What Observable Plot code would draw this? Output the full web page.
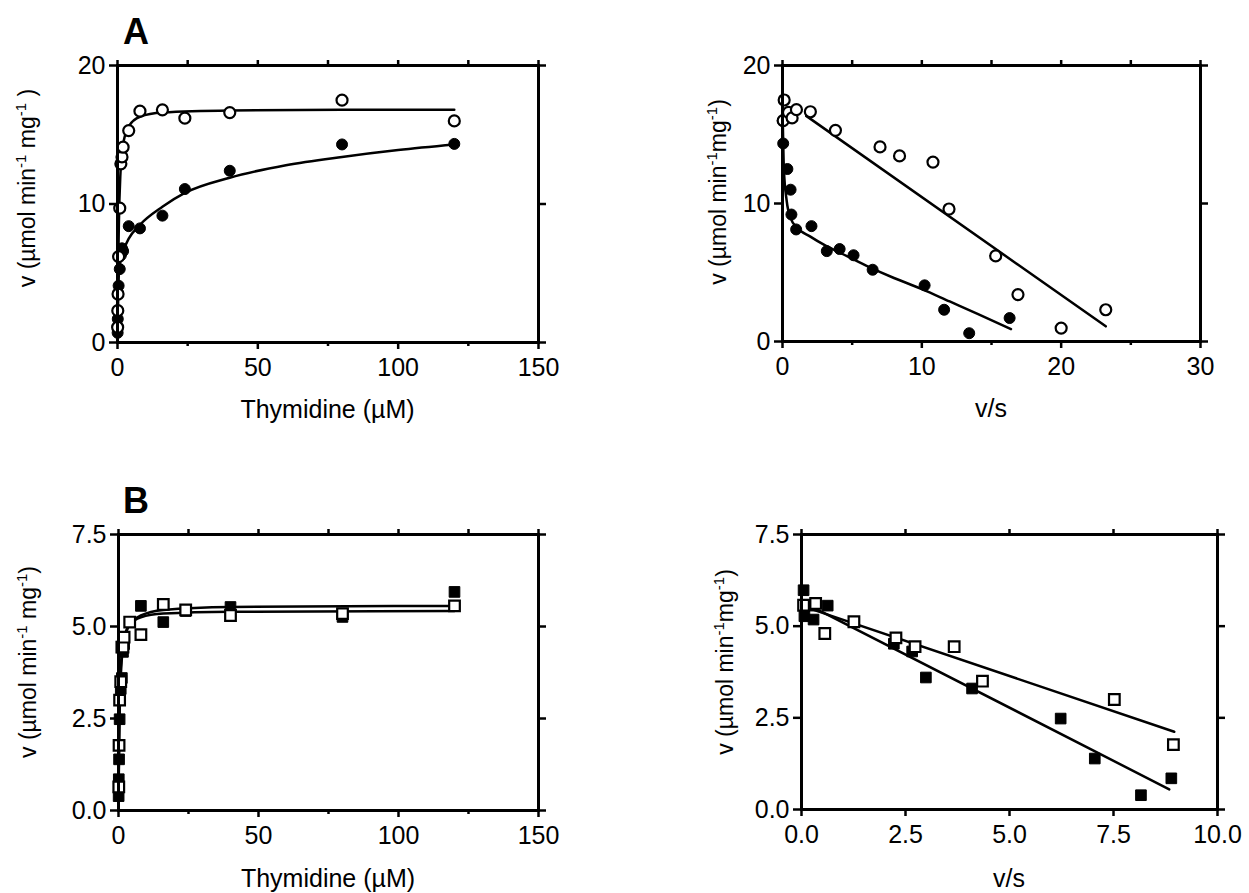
<!DOCTYPE html>
<html><head><meta charset="utf-8">
<script src="https://cdn.jsdelivr.net/npm/d3@7"></script>
<script src="https://cdn.jsdelivr.net/npm/@observablehq/plot@0.6"></script>
<style>
body{margin:0;background:#fff;}
#wrap{position:relative;width:1249px;height:893px;background:#fff;overflow:hidden;}
#wrap svg{position:absolute;}
</style></head><body><div id="wrap"></div>
<script>
// ---------- Panel A (left): v vs Thymidine ----------
const aL_openS   = [0.05, 0.1, 0.2, 0.4, 0.8, 1.2, 1.6, 2, 4, 8, 16, 24, 40, 80, 120];
const aL_openV   = [1.1, 2.3, 3.5, 6.2, 9.7, 12.9, 13.4, 14.1, 15.3, 16.7, 16.8, 16.2, 16.6, 17.5, 16.0];
const aL_fillS   = [0.05, 0.1, 0.2, 0.4, 0.8, 1.2, 1.6, 2, 4, 8, 16, 24, 40, 80, 120];
const aL_fillV   = [0.7, 1.7, 2.3, 4.1, 5.3, 6.3, 6.8, 6.6, 8.4, 8.24, 9.16, 11.08, 12.4, 14.3, 14.34];
const aL_openFitS = [0, 0.1, 0.25, 0.5, 1, 2, 4, 8, 16, 40, 80, 120];
const aL_openFitV = [0, 2.4, 5.5, 8.7, 12.0, 14.3, 15.6, 16.3, 16.6, 16.75, 16.8, 16.8];
const aL_fillFitS = [0, 0.1, 0.25, 0.5, 1, 2, 4, 8, 16, 24, 40, 60, 80, 100, 120];
const aL_fillFitV = [0, 1.8, 3.5, 5.0, 5.9, 6.6, 7.5, 8.5, 9.8, 10.8, 11.9, 12.8, 13.4, 13.9, 14.3];

// ---------- Panel A (right): v vs v/s ----------
const aR_openX = [0.05, 0.12, 0.43, 0.69, 1.0, 2.0, 3.8, 7.0, 8.4, 10.8, 11.95, 15.3, 16.9, 20.0, 23.2];
const aR_openY = [16.0, 17.5, 16.6, 16.2, 16.8, 16.65, 15.3, 14.1, 13.45, 13.0, 9.6, 6.2, 3.4, 0.97, 2.3];
const aR_fillX = [0.02, 0.05, 0.35, 0.58, 0.64, 0.98, 2.08, 3.18, 4.1, 5.1, 6.47, 10.2, 11.6, 13.4, 16.3];
const aR_fillY = [16.0, 14.35, 12.5, 11.0, 9.2, 8.12, 8.36, 6.55, 6.7, 6.25, 5.2, 4.07, 2.3, 0.6, 1.7];
const aR_openFitX = [1.7, 23.2];
const aR_openFitY = [16.35, 1.1];
const aR_fillFitX = [0.02, 0.1, 0.3, 0.6, 1, 2, 3, 4, 6, 8, 10, 12, 14, 16.4];
const aR_fillFitY = [16.0, 12.5, 10.2, 8.9, 8.3, 7.6, 7.0, 6.5, 5.5, 4.6, 3.8, 2.9, 2.0, 0.9];

// ---------- Panel B (left): v vs Thymidine ----------
const bL_openS = [0.1, 0.2, 0.4, 0.8, 1.2, 1.6, 2, 4, 8, 16, 24, 40, 80, 120];
const bL_openV = [0.64, 1.77, 3.0, 3.5, 4.44, 4.44, 4.71, 5.12, 4.78, 5.6, 5.45, 5.3, 5.35, 5.56];
const bL_fillS = [0.05, 0.1, 0.2, 0.4, 0.8, 1.2, 1.6, 2, 8, 16, 24, 40, 80, 120];
const bL_fillV = [0.39, 0.85, 1.39, 2.48, 3.3, 3.6, 4.31, 4.52, 5.56, 5.12, 5.42, 5.53, 5.26, 5.94];
const bL_openFitS = [0, 0.1, 0.25, 0.5, 1, 2, 4, 8, 16, 40, 120];
const bL_openFitV = [0, 1.1, 2.2, 3.3, 4.1, 4.7, 5.05, 5.25, 5.35, 5.4, 5.42];
const bL_fillFitS = [0, 0.1, 0.25, 0.5, 1, 2, 4, 8, 16, 40, 120];
const bL_fillFitV = [0, 0.9, 1.9, 3.0, 3.9, 4.6, 5.05, 5.3, 5.45, 5.53, 5.56];

// ---------- Panel B (right): v vs v/s ----------
const bR_openX = [0.05, 0.34, 0.56, 1.26, 2.27, 2.73, 3.67, 4.35, 7.52, 8.94];
const bR_openY = [5.57, 5.62, 4.8, 5.12, 4.68, 4.44, 4.44, 3.5, 3.0, 1.77];
const bR_fillX = [0.05, 0.07, 0.22, 0.29, 0.63, 2.22, 2.66, 2.99, 4.1, 6.23, 7.05, 8.16, 8.89];
const bR_fillY = [5.98, 5.27, 5.56, 5.18, 5.56, 4.52, 4.31, 3.6, 3.3, 2.48, 1.39, 0.39, 0.85];
const bR_openFitX = [0.15, 8.96];
const bR_openFitY = [5.5, 2.12];
const bR_fillFitX = [0.15, 8.84];
const bR_fillFitY = [5.59, 0.55];

// ---------- ticks & labels ----------
const thymTicks = [0, 50, 100, 150];
const thymMinor = [25, 75, 125];
const aVsTicks = [0, 10, 20, 30];
const aVsMinor = [5, 15, 25];
const aYTicks = [0, 10, 20];
const bVsTicks = [0, 2.5, 5, 7.5, 10];
const bYTicks = [0, 2.5, 5, 7.5];
const xLabelThym = "Thymidine (µM)";
const xLabelVs = "v/s";

const FONT = '"Liberation Sans", Arial, Helvetica, sans-serif';
const zip = (xs, ys) => xs.map((x, i) => ({x, y: ys[i]}));
const fmtInt = d3.format("d");
const fmt1 = d3.format(".1f");
const blank = () => "";

function openDots(d, sym) {
  return Plot.dot(d, {x: "x", y: "y", r: sym === "square" ? 6 : 5.5, symbol: sym, fill: "white", stroke: "black", strokeWidth: 2.2});
}
function fillDots(d, sym) {
  return Plot.dot(d, {x: "x", y: "y", r: sym === "square" ? 6 : 5.5, symbol: sym, fill: "black", stroke: "black", strokeWidth: 1});
}
function fit(d) {
  return Plot.line(d, {x: "x", y: "y", stroke: "black", strokeWidth: 2.5, curve: "monotone-x"});
}

function makePanel(c) {
  const svg = Plot.plot({
    width: c.w, height: c.h,
    marginLeft: c.l, marginRight: c.w - c.r, marginTop: c.t, marginBottom: c.h - c.b,
    style: {fontFamily: FONT, fontSize: "25px", color: "#000", background: "transparent", overflow: "visible"},
    x: {domain: c.xDomain},
    y: {domain: c.yDomain},
    marks: [
      Plot.axisX({anchor: "top", ticks: c.xTicks.concat(c.xMinor), tickSize: 6, tickFormat: blank, label: null, strokeWidth: 2.5}),
      Plot.axisY({anchor: "right", ticks: c.yTicks, tickSize: 7, tickFormat: blank, label: null, strokeWidth: 2.5}),
      Plot.axisX({anchor: "bottom", ticks: c.xMinor, tickSize: 4, tickFormat: blank, label: null, strokeWidth: 2.5}),
      Plot.axisX({anchor: "bottom", ticks: c.xTicks, tickSize: 7, tickPadding: 9, tickFormat: c.fmtX, label: null, strokeWidth: 2.5}),
      Plot.axisY({anchor: "left", ticks: c.yTicks, tickSize: 8, tickPadding: 4, tickFormat: c.fmtY, label: null, strokeWidth: 2.5}),
      ...c.marks,
      Plot.frame({stroke: "black", strokeWidth: 3})
    ]
  });
  svg.style.left = c.ox + "px";
  svg.style.top = c.oy + "px";
  const s = d3.select(svg);
  s.append("text").attr("x", c.xlx).attr("y", c.xly).attr("text-anchor", "middle")
    .attr("font-family", FONT).attr("font-size", 25).attr("fill", "black").text(c.xlabel);
  const t = s.append("text").attr("transform", `translate(${c.ylx},${c.yly}) rotate(-90)`)
    .attr("text-anchor", "middle").attr("dy", "0.35em")
    .attr("font-family", FONT).attr("font-size", 23).attr("fill", "black");
  t.append("tspan").text("v (µmol min");
  t.append("tspan").attr("font-size", 15).attr("dy", -9).text("-1");
  t.append("tspan").attr("dy", 9).text(c.gap1 + "mg");
  t.append("tspan").attr("font-size", 15).attr("dy", -9).text("-1");
  t.append("tspan").attr("dy", 9).text(c.gap2 + ")");
  if (c.panelLabel) {
    s.append("text").attr("x", 136).attr("y", c.ply).attr("font-family", FONT)
      .attr("font-size", 36).attr("font-weight", "bold").attr("fill", "black").text(c.panelLabel);
  }
  document.getElementById("wrap").appendChild(svg);
}

makePanel({
  ox: 0, oy: 0, w: 620, h: 446, l: 117, r: 538, t: 65, b: 342,
  xDomain: [0, 150], yDomain: [0, 20], xTicks: thymTicks, xMinor: thymMinor, yTicks: aYTicks, fmtX: fmtInt, fmtY: fmtInt,
  marks: [fit(zip(aL_openFitS, aL_openFitV)), fit(zip(aL_fillFitS, aL_fillFitV)),
          fillDots(zip(aL_fillS, aL_fillV), "circle"), openDots(zip(aL_openS, aL_openV), "circle")],
  xlabel: xLabelThym, xlx: 327.5, xly: 418, ylx: 27, yly: 188, gap1: " ", gap2: " ",
  panelLabel: "A", ply: 44
});
makePanel({
  ox: 620, oy: 0, w: 629, h: 446, l: 162, r: 580, t: 65, b: 341,
  xDomain: [0, 30], yDomain: [0, 20], xTicks: aVsTicks, xMinor: aVsMinor, yTicks: aYTicks, fmtX: fmtInt, fmtY: fmtInt,
  marks: [fit(zip(aR_openFitX, aR_openFitY)), fit(zip(aR_fillFitX, aR_fillFitY)),
          fillDots(zip(aR_fillX, aR_fillY), "circle"), openDots(zip(aR_openX, aR_openY), "circle")],
  xlabel: xLabelVs, xlx: 371, xly: 417, ylx: 98, yly: 192, gap1: "", gap2: ""
});
makePanel({
  ox: 0, oy: 446, w: 620, h: 447, l: 118, r: 538, t: 88, b: 364,
  xDomain: [0, 150], yDomain: [0, 7.5], xTicks: thymTicks, xMinor: thymMinor, yTicks: bYTicks, fmtX: fmtInt, fmtY: fmt1,
  marks: [fit(zip(bL_fillFitS, bL_fillFitV)), fit(zip(bL_openFitS, bL_openFitV)),
          fillDots(zip(bL_fillS, bL_fillV), "square"), openDots(zip(bL_openS, bL_openV), "square")],
  xlabel: xLabelThym, xlx: 328, xly: 441, ylx: 28, yly: 216, gap1: " ", gap2: "",
  panelLabel: "B", ply: 67
});
makePanel({
  ox: 620, oy: 446, w: 629, h: 447, l: 181, r: 597, t: 88, b: 363,
  xDomain: [0, 10], yDomain: [0, 7.5], xTicks: bVsTicks, xMinor: [], yTicks: bYTicks, fmtX: fmt1, fmtY: fmt1,
  marks: [fit(zip(bR_openFitX, bR_openFitY)), fit(zip(bR_fillFitX, bR_fillFitY)),
          fillDots(zip(bR_fillX, bR_fillY), "square"), openDots(zip(bR_openX, bR_openY), "square")],
  xlabel: xLabelVs, xlx: 389, xly: 441, ylx: 105, yly: 216, gap1: "", gap2: ""
});
</script></body></html>
